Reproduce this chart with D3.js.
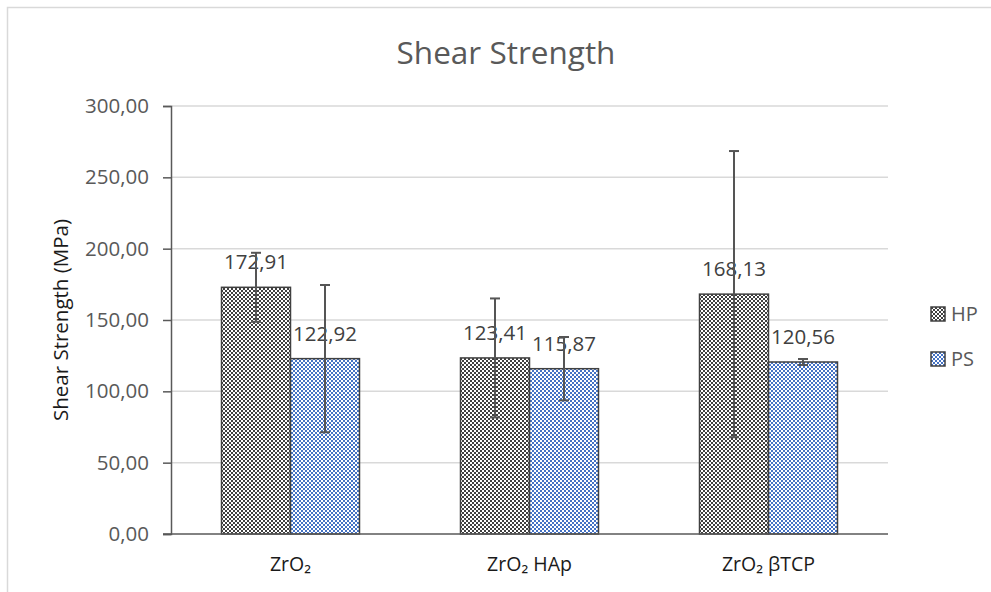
<!DOCTYPE html>
<html>
<head>
<meta charset="utf-8">
<script src="https://cdn.jsdelivr.net/npm/d3@7"></script>
<style>
  html, body { margin: 0; padding: 0; background: #fff; }
  svg { display: block; }
  text { font-family: "Open Sans", "Noto Sans", sans-serif; }
</style>
</head>
<body>
<svg id="chart" width="991" height="592"></svg>
<script>
// Shear strength per material and processing route
const categories = ["ZrO₂", "ZrO₂ HAp", "ZrO₂ βTCP"];
const seriesNames = ["HP", "PS"];
const hpValues = [172.91, 123.41, 168.13];
const psValues = [122.92, 115.87, 120.56];
const hpErrors = [24.2, 41.7, 100.3];
const psErrors = [51.6, 22.2, 2.1];
const yTicks = [0, 50, 100, 150, 200, 250, 300];

const svg = d3.select("#chart");
const W = 991, H = 592;
const margin = { left: 171, right: 103, top: 106, bottom: 58 };
const plotRight = W - margin.right;
const plotBottom = H - margin.bottom;

const fmt = v => d3.format(".2f")(v).replace(".", ",");

// Patterns: small checkerboards
const defs = svg.append("defs");
function checker(id, color) {
  const p = defs.append("pattern")
    .attr("id", id).attr("patternUnits", "userSpaceOnUse")
    .attr("width", 4).attr("height", 4);
  p.append("rect").attr("width", 4).attr("height", 4).attr("fill", "#fff");
  p.append("rect").attr("x", 0).attr("y", 0).attr("width", 2).attr("height", 2).attr("fill", color);
  p.append("rect").attr("x", 2).attr("y", 2).attr("width", 2).attr("height", 2).attr("fill", color);
}
checker("pat-HP", "#404040");
checker("pat-PS", "#4472C4");

// Outer frame
svg.append("rect")
  .attr("x", 7.5).attr("y", 7.5).attr("width", W + 10).attr("height", H + 10)
  .attr("fill", "none").attr("stroke", "#d9d9d9").attr("stroke-width", 1.5);

const x0 = d3.scaleBand().domain(categories).range([margin.left, plotRight]).padding(0);
const x1 = d3.scaleBand().domain(seriesNames).range([0, x0.bandwidth()])
  .paddingInner(0).paddingOuter(0.732);
const y = d3.scaleLinear().domain([0, 300]).range([plotBottom, margin.top]);

// Gridlines
svg.append("g").selectAll("line").data(yTicks.filter(t => t > 0)).join("line")
  .attr("x1", margin.left).attr("x2", plotRight)
  .attr("y1", d => y(d)).attr("y2", d => y(d))
  .attr("stroke", "#d9d9d9").attr("stroke-width", 1.5);

// Y axis
const yAxis = svg.append("g")
  .attr("transform", `translate(${margin.left},0)`)
  .call(d3.axisLeft(y).tickValues(yTicks).tickFormat(fmt).tickSize(8).tickPadding(14));
yAxis.select(".domain").attr("stroke", "#595959").attr("stroke-width", 1.5);
yAxis.selectAll(".tick line").attr("stroke", "#595959").attr("stroke-width", 1.5);
yAxis.selectAll(".tick text").attr("fill", "#595959")
  .style("font-size", "20.5px").style("font-family", "'Open Sans', sans-serif");

// Bars
const rows = categories.map((c, i) => ({
  cat: c,
  bars: [
    { s: "HP", v: hpValues[i], e: hpErrors[i] },
    { s: "PS", v: psValues[i], e: psErrors[i] }
  ]
}));

const groups = svg.append("g").selectAll("g").data(rows).join("g")
  .attr("transform", d => `translate(${x0(d.cat)},0)`);

groups.selectAll("rect").data(d => d.bars).join("rect")
  .attr("x", d => x1(d.s)).attr("width", x1.bandwidth())
  .attr("y", d => y(d.v)).attr("height", d => y(0) - y(d.v))
  .attr("fill", d => `url(#pat-${d.s})`)
  .attr("stroke", "#404040").attr("stroke-width", 1.5);

// X axis line
svg.append("line")
  .attr("x1", margin.left - 8).attr("x2", plotRight)
  .attr("y1", y(0)).attr("y2", y(0))
  .attr("stroke", "#595959").attr("stroke-width", 1.5);

// Value labels
groups.selectAll("text.val").data(d => d.bars).join("text")
  .attr("class", "val")
  .attr("x", d => x1(d.s) + x1.bandwidth() / 2)
  .attr("y", d => y(d.v) - 18)
  .attr("text-anchor", "middle")
  .attr("fill", "#404040").style("font-size", "20.5px")
  .text(d => fmt(d.v));

// Error bars
const cx = d => Math.round(x1(d.s) + x1.bandwidth() / 2);
const eb = groups.selectAll("g.err").data(d => d.bars).join("g").attr("class", "err")
  .attr("stroke", "#555555").attr("stroke-width", 2);
eb.append("line")
  .attr("x1", cx).attr("x2", cx)
  .attr("y1", d => y(d.v + d.e)).attr("y2", d => y(d.v - d.e));
eb.append("line")
  .attr("x1", d => cx(d) - 5).attr("x2", d => cx(d) + 5)
  .attr("y1", d => y(d.v + d.e)).attr("y2", d => y(d.v + d.e));
eb.append("line")
  .attr("x1", d => cx(d) - 5).attr("x2", d => cx(d) + 5)
  .attr("y1", d => y(d.v - d.e)).attr("y2", d => y(d.v - d.e));

// Category labels
svg.append("g").selectAll("text").data(categories).join("text")
  .attr("x", d => x0(d) + x0.bandwidth() / 2)
  .attr("y", 571)
  .attr("text-anchor", "middle")
  .attr("fill", "#1a1a1a").style("font-size", "19.5px")
  .text(d => d);

// Title
svg.append("text")
  .attr("x", 506).attr("y", 64)
  .attr("text-anchor", "middle")
  .attr("fill", "#595959").style("font-size", "31.5px")
  .text("Shear Strength");

// Y axis title
svg.append("text")
  .attr("transform", `translate(68,${(margin.top + plotBottom) / 2}) rotate(-90)`)
  .attr("text-anchor", "middle")
  .attr("fill", "#1a1a1a").style("font-size", "20.5px")
  .text("Shear Strength (MPa)");

// Legend
const legend = svg.append("g").selectAll("g").data(seriesNames).join("g")
  .attr("transform", (d, i) => `translate(931,${307 + i * 45})`);
legend.append("rect")
  .attr("width", 14).attr("height", 14)
  .attr("fill", d => `url(#pat-${d})`)
  .attr("stroke", "#404040").attr("stroke-width", 1.5);
legend.append("text")
  .attr("x", 20).attr("y", 14)
  .attr("fill", "#595959").style("font-size", "20px")
  .text(d => d);
</script>
</body>
</html>
